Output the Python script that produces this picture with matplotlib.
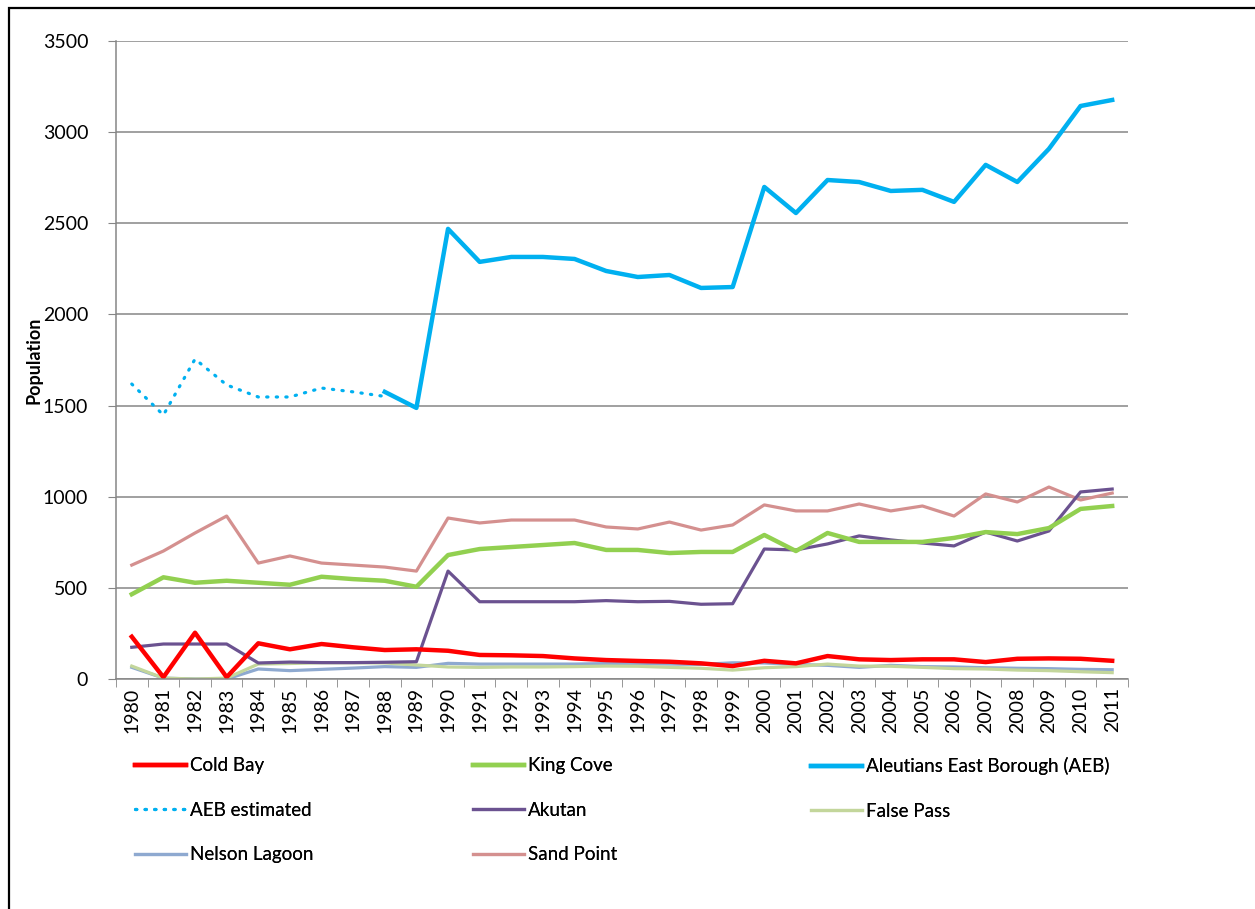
import matplotlib
matplotlib.use('Agg')
import matplotlib.pyplot as plt
from matplotlib.patches import Rectangle

plt.rcParams['font.family'] = ['Lato', 'DejaVu Sans']

years = [str(y) for y in range(1980, 2012)]

# population
cold_bay = [232, 10, 254, 10, 196, 163, 192, 174, 159, 163, 155, 132, 130, 126, 113, 104,
            99, 95, 86, 71, 100, 86, 126, 108, 104, 108, 108, 93, 111, 113, 111, 100]
king_cove = [465, 558, 528, 539, 528, 517, 561, 548, 539, 506, 680, 713, 724, 735, 746, 708,
             708, 691, 697, 697, 790, 702, 801, 752, 752, 752, 774, 806, 795, 828, 933, 949]
aeb = [None] * 8 + [1575, 1487, 2469, 2288, 2315, 2315, 2304, 2238, 2205, 2216, 2145, 2150,
                    2699, 2556, 2737, 2726, 2677, 2683, 2617, 2820, 2726, 2908, 3143, 3176]
aeb_est = [1618, 1448, 1755, 1613, 1547, 1547, 1596, 1575, 1550]
akutan = [174, 192, 192, 192, 88, 93, 90, 90, 92, 95, 592, 424, 424, 424, 424, 430,
          424, 426, 410, 413, 713, 708, 741, 785, 763, 746, 730, 806, 757, 812, 1026, 1042]
false_pass = [71, 5, 0, 5, 82, 85, 89, 89, 88, 77, 66, 64, 66, 66, 68, 71,
              70, 64, 59, 49, 62, 68, 82, 71, 70, 64, 57, 55, 49, 46, 40, 35]
nelson_lagoon = [64, 5, 0, 0, 55, 46, 53, 60, 68, 64, 86, 82, 82, 82, 82, 85,
                 84, 82, 80, 89, 88, 80, 75, 64, 75, 68, 66, 62, 59, 57, 53, 51]
sand_point = [625, 702, 801, 894, 636, 675, 636, 625, 614, 592, 883, 856, 872, 872, 872, 834,
              823, 861, 817, 845, 955, 922, 922, 960, 922, 949, 894, 1015, 971, 1053, 982, 1020]

fig = plt.figure(figsize=(12.55, 9.09), dpi=100)
ax = fig.add_axes([0.0924, 0.253, 0.8064, 0.702])

x = list(range(len(years)))
l_sp, = ax.plot(x, sand_point, color='#D4908F', lw=2.3, label='Sand Point')
l_nl, = ax.plot(x, nelson_lagoon, color='#8EA9D0', lw=2.3, label='Nelson Lagoon')
l_fp, = ax.plot(x, false_pass, color='#C3D69B', lw=2.3, label='False Pass')
l_ak, = ax.plot(x, akutan, color='#6B5290', lw=2.3, label='Akutan')
l_est, = ax.plot(x[:len(aeb_est)], aeb_est, color='#00B0F0', lw=2.3,
                 linestyle=(0, (0.4, 2.6)), dash_capstyle='round', label='AEB estimated')
l_aeb, = ax.plot(x, [float('nan') if v is None else v for v in aeb], color='#00B0F0', lw=3.2,
                 label='Aleutians East Borough (AEB)')
l_kc, = ax.plot(x, king_cove, color='#92D050', lw=3.2, label='King Cove')
l_cb, = ax.plot(x, cold_bay, color='#FF0000', lw=3.2, label='Cold Bay')

ax.set_xlim(-0.5, len(years) - 0.5)
ax.set_ylim(0, 3500)
ax.set_yticks(range(0, 3501, 500))
ax.set_xticks(x)
ax.set_xticklabels(years, rotation=90)
ax.set_xticks([i - 0.5 for i in range(len(years) + 1)], minor=True)
ax.tick_params(axis='x', which='major', length=0, labelsize=14, pad=6)
ax.tick_params(axis='x', which='minor', length=6, color='#868686')
ax.tick_params(axis='y', length=6, color='#868686', labelsize=14, pad=14)
ax.grid(axis='y', color='#868686', lw=1.1)
ax.set_axisbelow(True)
for s in ['top', 'right']:
    ax.spines[s].set_visible(False)
for s in ['left', 'bottom']:
    ax.spines[s].set_color('#868686')
    ax.spines[s].set_linewidth(1.1)
ax.set_ylabel('Population', fontsize=13, fontweight='bold')
ax.yaxis.set_label_coords(-0.073, 0.5)

# legend laid out in three equal columns like the original
cols = [[l_cb, l_est, l_nl], [l_kc, l_ak, l_sp], [l_aeb, l_fp]]
xs = [135 / 1255, 473 / 1255, 811 / 1255]
for cx, hs in zip(xs, cols):
    leg = fig.legend(handles=hs, labels=[h.get_label() for h in hs], loc='upper left',
                     bbox_to_anchor=(cx, 0.167), frameon=False, fontsize=13.5,
                     handlelength=2.7, handletextpad=0.25, labelspacing=1.47,
                     borderaxespad=0, borderpad=0)
    fig.add_artist(leg)

# outer frame
fig.add_artist(Rectangle((9 / 1255, -0.05), 1.2, 1 - 7.5 / 909 + 0.05,
                         transform=fig.transFigure, fill=False, ec='black', lw=1.6))

fig.savefig('out.png', dpi=100)
